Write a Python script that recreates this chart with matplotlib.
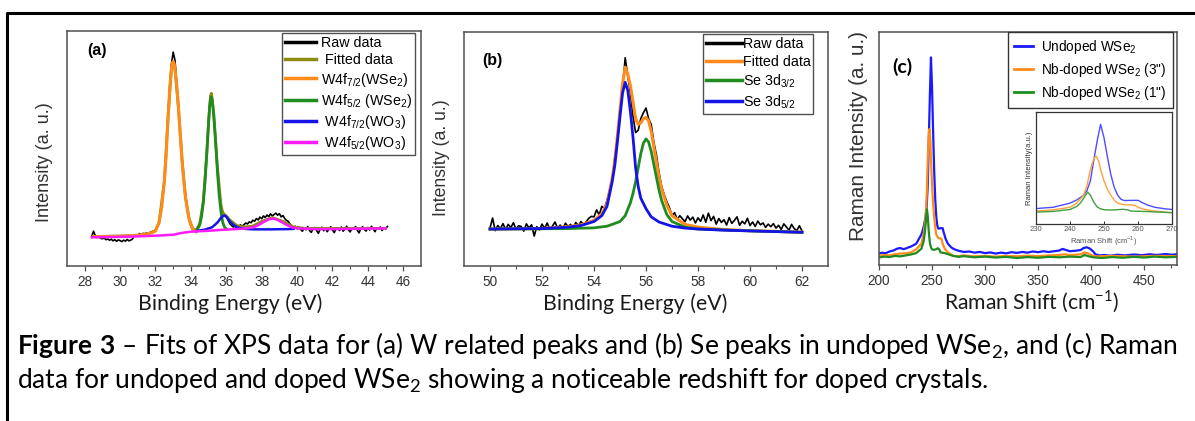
import numpy as np
import matplotlib
matplotlib.use('Agg')
import matplotlib.pyplot as plt
from matplotlib.lines import Line2D

plt.rcParams['font.family'] = ['Liberation Sans', 'DejaVu Sans']
plt.rcParams['mathtext.fontset'] = 'custom'
plt.rcParams['mathtext.rm'] = 'Lato'
plt.rcParams['mathtext.bf'] = 'Lato:bold'

# ---------------- (a) W 4f XPS ----------------
raw_a_start = 28.4
raw_a_y = [12.6, 14.8, 12.9, 12.1, 12.4, 11.8, 11.6, 11.9, 11.2, 11.5,
           11.0, 11.4, 10.7, 11.2, 10.5, 11.1, 10.8, 10.4, 11.0, 10.6,
           11.3, 10.7, 11.0, 11.5, 12.8, 13.4, 13.1, 13.8, 13.3, 13.9,
           13.6, 14.1, 13.8, 14.3, 14.6, 14.9, 15.4, 16.6, 18.9, 22.8,
           29.5, 37.0, 48.0, 63.0, 76.5, 86.0, 91.0, 87.5, 78.0, 67.5,
           57.0, 46.0, 37.5, 30.0, 24.5, 20.0, 17.0, 15.4, 14.6, 14.9,
           16.0, 17.8, 21.5, 27.5, 37.0, 49.0, 62.0, 72.5, 71.0, 63.5,
           53.0, 41.5, 32.0, 25.5, 23.0, 22.0, 21.0, 19.5, 18.0, 17.2,
           16.6, 17.0, 16.2, 16.8, 17.5, 16.9, 17.6, 18.3, 17.9, 18.8,
           18.4, 19.5, 19.0, 20.2, 19.6, 20.8, 20.1, 21.3, 20.6, 21.7,
           21.0, 22.2, 21.3, 21.9, 22.5, 21.6, 22.3, 20.9, 21.5, 20.2,
           19.4, 19.0, 17.8, 17.2, 16.4, 16.9, 15.8, 16.5, 15.6, 14.8,
           16.2, 15.4, 16.8, 15.1, 14.3, 15.9, 16.4, 15.2, 13.9, 15.6,
           16.5, 15.0, 16.1, 14.6, 15.8, 16.7, 15.3, 14.2, 15.9, 16.3,
           15.1, 16.6, 14.8, 15.7, 16.9, 15.4, 14.5, 16.2, 15.6, 16.8,
           15.2, 14.1, 16.0, 16.7, 15.5, 14.9, 16.4, 15.3, 16.9, 15.8,
           14.6, 16.2, 15.7, 16.6, 15.1, 16.3, 15.9, 16.8]
fit_a_x = [28.5, 31.0, 31.8, 32.0, 32.2, 32.5, 32.7, 32.9, 33.0, 33.1, 33.3, 33.5, 33.7,
           33.9, 34.1, 34.3, 34.5, 34.7, 34.9, 35.0, 35.1, 35.15, 35.2, 35.3, 35.5, 35.7,
           35.8, 35.9, 36.0, 36.2, 36.6, 37.0, 37.5, 38.0, 38.6, 39.2, 39.8, 40.5, 45.0]
fit_a_y = [12.5, 13.0, 14.2, 15.0, 18.5, 36.0, 62.0, 84.0, 87.0, 84.0, 67.0, 45.0, 29.0,
           20.0, 16.0, 15.2, 18.0, 27.5, 48.5, 61.5, 71.5, 73.5, 71.5, 64.0, 42.0, 26.0,
           22.5, 21.8, 21.3, 19.6, 17.2, 16.6, 17.0, 19.0, 20.6, 19.0, 16.6, 16.0, 16.0]
w72_wse2_x = [28.5, 29.0, 30.0, 31.0, 31.5, 31.8, 32.0, 32.2, 32.35, 32.5, 32.6, 32.7, 32.8,
              32.9, 32.95, 33.0, 33.05, 33.1, 33.2, 33.3, 33.4, 33.5, 33.6, 33.7, 33.8, 33.9,
              34.0, 34.1, 34.2, 34.3]
w72_wse2_y = [12.5, 12.5, 12.6, 13.0, 13.6, 14.2, 15.0, 18.5, 25.0, 36.0, 47.0, 62.0, 75.0,
              84.0, 86.3, 87.0, 86.3, 84.0, 77.0, 67.0, 56.0, 45.0, 36.0, 29.0, 24.0, 20.0,
              17.5, 15.8, 14.9, 14.6]
w52_wse2_x = [34.3, 34.5, 34.6, 34.7, 34.8, 34.9, 35.0, 35.05, 35.1, 35.15, 35.2, 35.25,
              35.3, 35.4, 35.5, 35.6, 35.7, 35.8, 35.9, 36.0]
w52_wse2_y = [14.8, 17.5, 21.0, 27.0, 36.0, 48.0, 61.0, 67.0, 70.5, 72.0, 70.5, 67.5,
              63.0, 52.0, 40.0, 30.0, 23.0, 18.5, 16.5, 15.8]
w72_wo3_x = [34.4, 34.8, 35.2, 35.5, 35.7, 35.8, 35.9, 36.0, 36.2, 36.4, 36.6, 36.9, 37.5,
             38.5, 39.5, 39.8]
w72_wo3_y = [15.0, 15.5, 16.5, 18.5, 20.5, 21.2, 21.5, 21.0, 19.0, 17.5, 16.5, 15.9, 15.6,
             15.6, 15.7, 15.8]
w52_wo3_x = [28.4, 29.0, 30.0, 31.0, 32.0, 33.0, 33.5, 34.0, 35.0, 36.0, 37.0, 37.5, 37.8,
             38.1, 38.4, 38.6, 38.8, 39.1, 39.4, 39.7, 40.0, 41.0, 42.0, 43.0, 44.0, 45.0]
w52_wo3_y = [12.2, 12.3, 12.4, 12.6, 12.9, 13.3, 14.1, 14.6, 15.0, 15.5, 15.9, 16.4, 17.3,
             18.7, 19.8, 20.2, 19.9, 18.8, 17.5, 16.5, 16.0, 15.7, 15.7, 15.8, 15.9, 16.0]
labels_a = ['Raw data', ' Fitted data',
            r'W4f$_{\mathregular{7/2}}$(WSe$_{\mathregular{2}}$)',
            r'W4f$_{\mathregular{5/2}}$ (WSe$_{\mathregular{2}}$)',
            r' W4f$_{\mathregular{7/2}}$(WO$_{\mathregular{3}}$)',
            r' W4f$_{\mathregular{5/2}}$(WO$_{\mathregular{3}}$)']

# ---------------- (b) Se 3d XPS ----------------
raw_b_start = 50.0
raw_b_y = [16.2, 20.5, 15.1, 17.3, 16.0, 18.1, 15.6, 17.8, 16.4, 18.5,
           15.8, 17.2, 16.9, 14.9, 18.0, 16.3, 17.6, 12.8, 16.8, 15.4,
           17.9, 16.1, 18.4, 15.7, 17.0, 18.8, 16.2, 17.5, 15.9, 18.3,
           16.9, 17.8, 16.4, 18.6, 17.2, 19.0, 17.6, 18.9, 20.4, 21.2,
           21.0, 24.0, 21.8, 25.5, 24.5, 28.0, 32.5, 37.0, 46.5, 54.0,
           67.0, 76.0, 89.0, 81.0, 74.0, 64.0, 57.0, 58.0, 63.0, 65.5,
           67.5, 63.0, 60.5, 53.0, 47.5, 40.0, 34.0, 30.5, 27.5, 25.0,
           21.5, 22.8, 19.9, 21.5, 20.2, 18.9, 21.4, 19.6, 20.9, 18.4,
           20.6, 19.1, 21.8, 18.7, 22.6, 19.4, 21.2, 17.9, 20.3, 18.6,
           19.8, 17.5, 20.7, 18.2, 19.5, 21.0, 17.4, 19.1, 18.0, 20.4,
           17.3, 18.8, 16.9, 19.2, 17.6, 18.4, 16.5, 17.9, 16.8, 18.1,
           16.2, 17.4, 15.6, 18.0, 16.7, 15.3, 17.8, 16.0, 15.1, 17.2,
           15.0]
fit_b_x = [50.0, 51.0, 52.0, 53.0, 53.5, 54.0, 54.3, 54.5, 54.7, 54.8, 54.9, 55.0, 55.1,
           55.2, 55.3, 55.4, 55.5, 55.6, 55.7, 55.8, 55.9, 56.0, 56.1, 56.2, 56.3, 56.4,
           56.5, 56.6, 56.8, 57.0, 57.5, 58.0, 59.0, 60.0, 61.0, 62.0]
fit_b_y = [15.8, 15.9, 16.0, 16.8, 17.6, 19.5, 22.3, 26.5, 37.5, 45.0, 55.5, 66.5, 78.0,
           85.0, 82.0, 77.0, 70.0, 63.0, 60.5, 61.2, 63.0, 63.5, 62.0, 57.5, 51.0, 44.5,
           38.0, 33.0, 26.0, 21.5, 17.8, 16.6, 15.6, 15.1, 14.8, 14.5]
se32_x = [50.0, 52.0, 53.0, 54.0, 54.5, 55.0, 55.2, 55.4, 55.5, 55.6, 55.7, 55.8, 55.9,
          56.0, 56.1, 56.2, 56.3, 56.4, 56.5, 56.6, 56.8, 57.0, 57.5, 58.0, 60.0, 62.0]
se32_y = [15.8, 15.9, 16.0, 16.3, 17.0, 19.0, 21.5, 27.0, 31.0, 36.0, 42.0, 48.0, 52.5,
          54.3, 53.0, 49.0, 43.5, 38.0, 32.5, 28.0, 22.0, 19.0, 16.6, 15.8, 15.0, 14.4]
se52_x = [50.0, 51.0, 52.0, 53.0, 53.5, 54.0, 54.3, 54.5, 54.7, 54.8, 54.9, 55.0, 55.1,
          55.2, 55.3, 55.4, 55.5, 55.6, 55.7, 55.8, 56.0, 56.2, 56.5, 57.0, 57.5, 58.0,
          59.0, 60.0, 61.0, 62.0]
se52_y = [15.8, 15.9, 16.0, 16.6, 17.3, 19.0, 21.5, 25.5, 36.0, 43.0, 53.0, 64.0, 74.0,
          78.5, 75.0, 66.0, 55.0, 42.0, 34.0, 29.0, 24.5, 21.0, 18.8, 17.0, 16.2, 15.8,
          15.3, 15.0, 14.7, 14.4]
labels_b = ['Raw data', 'Fitted data', r'Se 3d$_{\mathregular{3/2}}$', r'Se 3d$_{\mathregular{5/2}}$']

# ---------------- (c) Raman ----------------
undoped_x = [200, 203, 206, 210, 214, 217, 220, 223, 226, 228, 230, 235, 240, 242, 244, 245,
             246, 247, 248, 249, 250, 251, 252, 253, 254, 255, 256, 258, 260, 261, 263, 265,
             268, 270, 273, 276, 280, 285, 290, 295, 300, 305, 310, 315, 320, 325, 330, 335,
             340, 345, 350, 355, 360, 365, 370, 373, 376, 380, 385, 390, 393, 396, 399, 402,
             404, 408, 412, 418, 425, 432, 440, 448, 455, 462, 470, 476, 481]
undoped_y = [4.9, 5.3, 5.0, 5.8, 6.3, 7.0, 7.3, 6.8, 7.2, 7.6, 7.9, 9.1, 13.1, 16.2, 20.8, 25.4,
             34.7, 54.7, 73.2, 89.1, 76.2, 57.8, 40.8, 28.5, 20.8, 16.8, 15.6, 15.8, 15.8, 14.0,
             11.0, 9.1, 7.6, 7.0, 6.4, 6.0, 5.6, 5.8, 5.3, 5.6, 5.1, 5.4, 4.9, 5.3, 5.0, 5.5,
             5.2, 5.6, 5.3, 5.8, 5.5, 5.9, 5.6, 5.9, 6.2, 6.9, 6.5, 5.9, 6.1, 6.4, 7.3, 7.6,
             7.0, 5.8, 4.6, 4.1, 4.3, 4.0, 4.4, 4.1, 4.5, 4.2, 4.6, 4.3, 4.7, 4.4, 4.6]
nb3_x = [200, 205, 210, 215, 220, 225, 228, 230, 235, 240, 242, 244, 245, 246, 247, 247.7,
         248.5, 249, 250, 251, 252, 253, 254, 256, 258, 259, 260, 262, 265, 270, 275, 280,
         290, 300, 310, 320, 330, 340, 350, 360, 370, 375, 380, 390, 394, 397, 401, 405,
         420, 440, 460, 481]
nb3_y = [4.0, 4.3, 4.1, 4.6, 4.9, 5.0, 5.2, 5.4, 6.7, 9.1, 13.1, 20.8, 30.1, 45.5, 56.2, 58.4,
         53.1, 45.5, 34.7, 26.4, 20.8, 16.2, 13.1, 11.5, 11.5, 11.0, 9.1, 7.0, 5.4, 3.9, 3.8,
         4.1, 3.7, 3.9, 3.6, 3.9, 3.7, 4.0, 3.8, 4.1, 4.3, 4.6, 4.2, 4.6, 5.4, 5.0, 4.1, 3.7,
         3.9, 3.6, 3.9, 3.8]
nb1_x = [200, 205, 210, 215, 220, 225, 230, 235, 240, 242, 243, 244, 245.2, 246, 247, 248,
         249, 250, 252, 254, 255.5, 257, 258, 262, 266, 270, 275, 280, 290, 300, 310, 320,
         330, 340, 350, 360, 370, 380, 390, 394, 397, 402, 410, 420, 430, 440, 450, 460,
         470, 481]
nb1_y = [3.2, 3.6, 3.4, 3.9, 3.7, 4.1, 4.5, 5.1, 7.0, 10.0, 13.1, 17.8, 23.9, 20.8, 14.0, 9.4,
         7.6, 6.7, 6.5, 6.8, 7.2, 6.6, 5.4, 5.1, 4.5, 3.9, 3.5, 3.8, 3.3, 3.6, 3.2, 3.5, 3.0,
         3.4, 3.1, 3.5, 3.3, 3.6, 3.4, 4.3, 3.8, 3.3, 3.0, 3.4, 3.1, 3.5, 3.2, 3.6, 3.3, 3.5]
labels_c = [r'Undoped WSe$_{\mathregular{2}}$',
            r'Nb-doped WSe$_{\mathregular{2}}$ (3")',
            r'Nb-doped WSe$_{\mathregular{2}}$ (1")']

caption_1 = (r'$\mathbf{Figure\ 3}$ – Fits of XPS data for (a) W related peaks and (b) Se peaks '
             r'in undoped WSe$_2$, and (c) Raman')
caption_2 = r'data for undoped and doped WSe$_2$ showing a noticeable redshift for doped crystals.'

W, H = 1195, 421
fig = plt.figure(figsize=(W / 100, H / 100), dpi=100)
renderer = fig.canvas.get_renderer()

def rect(l, t, r, b):
    return [l / W, 1 - b / H, (r - l) / W, (b - t) / H]

def fit_size(txt, target, vertical=False):
    # scale the font so the text spans `target` pixels
    bb = txt.get_window_extent(renderer)
    span = bb.height if vertical else bb.width
    txt.set_fontsize(txt.get_fontsize() * target / span)

def put_xlabel(ax, text, cx, cy, width, **kw):
    ax.set_xlabel(text, va='center', ha='center', **kw)
    ax.xaxis.set_label_coords(cx / W, 1 - cy / H, transform=fig.transFigure)
    fit_size(ax.xaxis.label, width)

def put_ylabel(ax, text, cx, cy, height, **kw):
    ax.set_ylabel(text, va='center', ha='center', **kw)
    ax.yaxis.set_label_coords(cx / W, 1 - cy / H, transform=fig.transFigure)
    fit_size(ax.yaxis.label, height, vertical=True)

SPINE = '#505050'
TICK = '#333333'
CAL = ['Lato', 'DejaVu Sans']

def style(ax, xlim, major, minor):
    ax.set_xlim(*xlim)
    ax.set_ylim(0, 100)
    ax.set_xticks(major)
    ax.set_xticks(minor, minor=True)
    ax.set_yticks([])
    for s in ax.spines.values():
        s.set_color(SPINE)
        s.set_linewidth(1.1)
    ax.tick_params(axis='x', which='major', direction='out', length=3.5, width=0.9,
                   color=SPINE, labelsize=9.8, labelcolor=TICK, pad=3)
    ax.tick_params(axis='x', which='minor', direction='out', length=2, width=0.8, color=SPINE)

# ---- panel a
ax1 = fig.add_axes(rect(67, 31, 421, 266))
raw_a_x = raw_a_start + 0.1 * np.arange(len(raw_a_y))
ax1.plot(raw_a_x, raw_a_y, color='black', lw=1.2, label=labels_a[0])
ax1.plot(fit_a_x, fit_a_y, color='#8c8c14', lw=2.0, label=labels_a[1])
ax1.plot(w72_wse2_x, w72_wse2_y, color='#ff8c1a', lw=2.2, label=labels_a[2])
ax1.plot(w52_wse2_x, w52_wse2_y, color='#1f8c1f', lw=2.0, label=labels_a[3])
ax1.plot(w72_wo3_x, w72_wo3_y, color='#1414e6', lw=1.8, label=labels_a[4])
ax1.plot(w52_wo3_x, w52_wo3_y, color='#ff1aff', lw=1.8, label=labels_a[5])
style(ax1, (27, 47), range(28, 47, 2), range(29, 47, 2))
put_xlabel(ax1, 'Binding Energy (eV)', 230, 304, 184, family=CAL, color='#1a1a1a')
put_ylabel(ax1, 'Intensity (a. u.)', 44.5, 162, 120, color='#333333')
ax1.text(0.057, 0.915, '(a)', transform=ax1.transAxes, fontsize=11.5, fontweight='bold',
         va='center', ha='left')
leg = ax1.legend(loc='upper right', bbox_to_anchor=(0.983, 0.99), fontsize=10.3,
                 handlelength=2.2, handletextpad=0.3, labelspacing=0.22, borderpad=0.2,
                 fancybox=False, framealpha=1, edgecolor=SPINE, borderaxespad=0)
leg.get_frame().set_linewidth(1.0)
for h in leg.get_lines():
    h.set_linewidth(2.5)

# ---- panel b
ax2 = fig.add_axes(rect(464, 32, 828, 266))
raw_b_x = raw_b_start + 0.1 * np.arange(len(raw_b_y))
ax2.plot(raw_b_x, raw_b_y, color='black', lw=1.2, label=labels_b[0])
ax2.plot(fit_b_x, fit_b_y, color='#ff8c1a', lw=2.2, label=labels_b[1])
ax2.plot(se32_x, se32_y, color='#1f8c1f', lw=2.0, label=labels_b[2])
ax2.plot(se52_x, se52_y, color='#1414e6', lw=2.0, label=labels_b[3])
style(ax2, (49, 63), range(50, 63, 2), range(51, 63, 2))
put_xlabel(ax2, 'Binding Energy (eV)', 635, 304, 184, family=CAL, color='#1a1a1a')
put_ylabel(ax2, 'Intensity (a. u.)', 442, 158, 117, color='#333333')
ax2.text(0.05, 0.88, '(b)', transform=ax2.transAxes, fontsize=11.5, fontweight='bold',
         va='center', ha='left')
leg = ax2.legend(loc='upper right', bbox_to_anchor=(0.96, 0.99), fontsize=10.3,
                 handlelength=2.5, handletextpad=0.05, labelspacing=0.25, borderpad=0.2,
                 fancybox=False, framealpha=1, edgecolor=SPINE, borderaxespad=0)
leg.get_frame().set_linewidth(1.0)
for h in leg.get_lines():
    h.set_linewidth(2.5)

# ---- panel c
ax3 = fig.add_axes(rect(879, 32, 1177, 265))
ax3.plot(undoped_x, undoped_y, color='#1a1aff', lw=1.6, label=labels_c[0])
ax3.plot(nb3_x, nb3_y, color='#ff8c1a', lw=1.6, label=labels_c[1])
ax3.plot(nb1_x, nb1_y, color='#1f8c1f', lw=1.6, label=labels_c[2])
style(ax3, (200, 481), range(200, 481, 50), range(225, 481, 50))
put_xlabel(ax3, r'Raman Shift (cm$^{\mathregular{-1}}$)', 1032, 302, 176,
           family=CAL, color='#1a1a1a')
put_ylabel(ax3, 'Raman Intensity (a. u.)', 858, 136, 210, color='#333333')
ax3.text(0.045, 0.85, '(c)', transform=ax3.transAxes, fontsize=14, fontweight='bold',
         family=CAL, va='center', ha='left')
leg = ax3.legend(loc='upper right', bbox_to_anchor=(0.985, 1.0), fontsize=9.8,
                 handlelength=1.4, handletextpad=0.6, labelspacing=0.35, borderpad=0.45,
                 fancybox=False, framealpha=1, edgecolor='#333333', borderaxespad=0)
leg.get_frame().set_linewidth(1.0)
for h in leg.get_lines():
    h.set_linewidth(2.0)

# inset: same spectra, zoomed on the main peak
ax4 = fig.add_axes(rect(1036, 112, 1172, 224))
ax4.plot(undoped_x, undoped_y, color='#4d4dff', lw=1.0)
ax4.plot(nb3_x, nb3_y, color='#ffa040', lw=1.0)
ax4.plot(nb1_x, nb1_y, color='#40a040', lw=1.0)
ax4.set_xlim(230, 270)
ax4.set_ylim(-7, 101)
ax4.set_xticks(range(230, 271, 10))
ax4.set_yticks([])
for s in ax4.spines.values():
    s.set_color('#333333')
    s.set_linewidth(0.9)
ax4.tick_params(axis='x', direction='in', length=2, width=0.6, labelsize=5.5,
                labelcolor='#555555', pad=1.5)
ax4.set_xlabel(r'Raman Shift (cm$^{\mathregular{-1}}$)', fontsize=5.5, color='#555555', labelpad=1)
ax4.set_ylabel('Raman Intensity(a.u.)', fontsize=5.5, color='#333333', labelpad=2)

# caption
cap1 = fig.text(17 / W, 1 - 354 / H, caption_1, family=CAL, fontsize=15, color='black',
                va='baseline', ha='left')
fit_size(cap1, 1166)
fig.text(17 / W, 1 - 388 / H, caption_2, family=CAL, fontsize=cap1.get_fontsize(),
         color='black', va='baseline', ha='left')

# outer frame (top and left rules)
fig.add_artist(Line2D([7 / W, 7 / W, 1.0], [0.0, 1 - 13 / H, 1 - 13 / H],
                      transform=fig.transFigure, color='black', lw=2.2))

fig.savefig('out.png', dpi=100)
